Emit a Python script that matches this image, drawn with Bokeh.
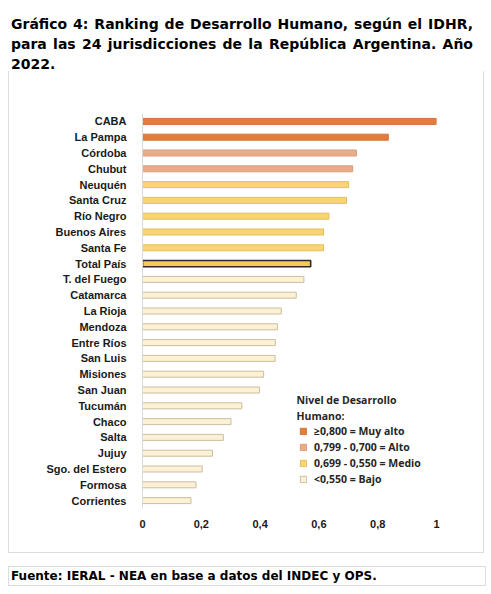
from bokeh.plotting import figure
from bokeh.layouts import column
from bokeh.models import (FactorRange, Range1d, FixedTicker, Label, Legend, LegendItem,
                          ColumnDataSource, Div)
from bokeh.embed import file_html
from bokeh.resources import INLINE

# --- data -------------------------------------------------------------
jurisdicciones = ["CABA", "La Pampa", "Córdoba", "Chubut", "Neuquén", "Santa Cruz",
                  "Río Negro", "Buenos Aires", "Santa Fe", "Total País", "T. del Fuego",
                  "Catamarca", "La Rioja", "Mendoza", "Entre Ríos", "San Luis",
                  "Misiones", "San Juan", "Tucumán", "Chaco", "Salta", "Jujuy",
                  "Sgo. del Estero", "Formosa", "Corrientes"]
idhr = [1.000, 0.836, 0.728, 0.715, 0.701, 0.694, 0.634, 0.616, 0.616, 0.572, 0.549,
        0.523, 0.472, 0.459, 0.452, 0.451, 0.412, 0.398, 0.338, 0.301, 0.275, 0.238,
        0.203, 0.182, 0.165]
nivel = (["Muy alto"] * 2 + ["Alto"] * 2 + ["Medio"] * 5 + ["Total"] + ["Bajo"] * 15)

niveles = ["Muy alto", "Alto", "Medio", "Bajo"]
leyenda = ["≥0,800 = Muy alto", "0,799 - 0,700 = Alto", "0,699 - 0,550 = Medio",
           "<0,550 = Bajo"]
x_ticks = [0, 0.2, 0.4, 0.6, 0.8, 1.0]
x_tick_labels = ["0", "0,2", "0,4", "0,6", "0,8", "1"]

titulo = ["Gráfico 4: Ranking de Desarrollo Humano, según el IDHR,",
          "para las 24 jurisdicciones de la República Argentina. Año",
          "2022."]
fuente = "Fuente: IERAL - NEA en base a datos del INDEC y OPS."
leyenda_titulo = ["Nivel de Desarrollo", "Humano:"]

# --- styles -----------------------------------------------------------
fill = {"Muy alto": "#E27D3D", "Alto": "#EAAB88", "Medio": "#F8D472",
        "Bajo": "#FCF1D4", "Total": "#F6CB55"}
line = {"Muy alto": "#D6733A", "Alto": "#DA9E7E", "Medio": "#E3BF5E",
        "Bajo": "#CDBD9E", "Total": "#2B2B2B"}
edge = "#DCDCDC"

# page geometry (pixels from the top-left of the page)
PAGE_W = 491
TITLE_H = 71            # chart box starts below the title block
BOX_L, BOX_R, BOX_B = 8, 486, 554
FL, FR, FT, FB = 142, 436, 113, 508   # plot frame

fig_w = BOX_R - BOX_L - 2
fig_h = BOX_B - TITLE_H - 1

# title: first lines stretched edge to edge, last line left aligned
title_lines = "".join(
    '<div style="white-space:nowrap;text-align:justify;text-align-last:{};">{}</div>'.format(
        "justify" if k < len(titulo) - 1 else "left", t)
    for k, t in enumerate(titulo))
title_div = Div(
    text=('<div style="width:473px;padding:14px 0 0 11px;'
          'font-family:\'DejaVu Sans\';font-weight:bold;font-size:14px;'
          'line-height:20px;color:#000;">' + title_lines + '</div>'),
    width=PAGE_W, height=TITLE_H, margin=0)

p = figure(width=fig_w, height=fig_h, output_backend="svg", toolbar_location=None,
           y_range=FactorRange(*reversed(jurisdicciones)), x_range=Range1d(0, 1.0),
           min_border_left=FL - BOX_L - 1, min_border_right=BOX_R - 1 - FR,
           min_border_top=FT - TITLE_H, min_border_bottom=BOX_B - 1 - FB,
           margin=(0, 0, 0, BOX_L),
           styles={"border-left": f"1px solid {edge}", "border-right": f"1px solid {edge}",
                   "border-bottom": f"1px solid {edge}"})
p.outline_line_color = None
p.background_fill_color = "white"
p.border_fill_color = "white"
p.xgrid.visible = False
p.ygrid.visible = False

renderers = {}
for lv in niveles + ["Total"]:
    idx = [i for i, n in enumerate(nivel) if n == lv]
    src = ColumnDataSource(dict(y=[jurisdicciones[i] for i in idx],
                                v=[idhr[i] for i in idx]))
    renderers[lv] = p.hbar(y="y", left=0, right="v", height=0.40 if lv == "Total" else 0.38,
                           source=src, fill_color=fill[lv], line_color=line[lv],
                           line_width=1.6 if lv == "Total" else 1)

# axes
ax = p.xaxis[0]
ax.ticker = FixedTicker(ticks=x_ticks)
ax.major_label_overrides = dict(zip([float(t) for t in x_ticks], x_tick_labels))
ax.axis_line_color = None
ax.major_tick_line_color = None
ax.minor_tick_line_color = None
ax.major_label_standoff = 5
ax.major_label_text_font = "Liberation Sans"
ax.major_label_text_font_style = "bold"
ax.major_label_text_font_size = "11px"
ax.major_label_text_color = "#1A1A1A"

ay = p.yaxis[0]
ay.axis_line_color = "#DADADA"
ay.major_tick_line_color = None
ay.minor_tick_line_color = None
ay.major_label_standoff = 10
ay.major_label_text_font = "Liberation Sans"
ay.major_label_text_font_style = "bold"
ay.major_label_text_font_size = "11px"
ay.major_label_text_color = "#1A1A1A"


def sx(px):
    return px - FL


def sy(py):
    return FB - py


# legend (location = bottom-left corner, relative to the frame)
legend = Legend(items=[LegendItem(label=t, renderers=[renderers[lv]])
                       for lv, t in zip(niveles, leyenda)],
                location=(sx(299), sy(486)), orientation="vertical",
                glyph_width=8, glyph_height=8, label_standoff=7, spacing=2,
                padding=0, margin=0, border_line_color=None,
                background_fill_alpha=0, label_text_font="Open Sans",
                label_text_font_style="bold", label_text_font_size="10.5px",
                label_text_color="#262626", label_height=14)
p.add_layout(legend, "center")

for txt, yc in zip(leyenda_titulo, [399, 415]):
    p.add_layout(Label(x=sx(296), y=sy(yc), x_units="screen", y_units="screen",
                       text=txt, text_font="Open Sans", text_font_style="bold",
                       text_font_size="10.5px", text_color="#262626",
                       text_baseline="middle"))

footer_div = Div(
    text=(f'<div style="box-sizing:border-box;width:{BOX_R - BOX_L}px;height:20px;'
          f'border:1px solid {edge};padding-left:2px;font-family:\'DejaVu Sans\';'
          'font-weight:bold;font-size:12px;line-height:18px;color:#000;'
          'white-space:nowrap;">' + fuente + '</div>'),
    width=BOX_R - BOX_L, height=20, margin=(13, 0, 0, BOX_L))

layout = column(title_div, p, footer_div, spacing=0, margin=0)

open("out.html", "w").write(file_html(layout, INLINE))
